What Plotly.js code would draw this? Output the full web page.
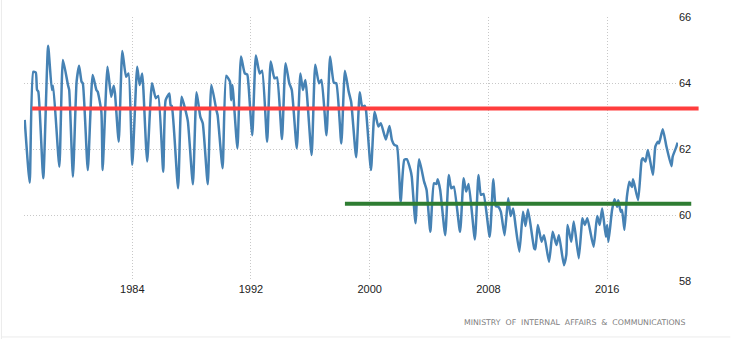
<!DOCTYPE html>
<html>
<head>
<meta charset="utf-8">
<script src="https://cdn.plot.ly/plotly-3.0.1.min.js"></script>
<style>html,body{margin:0;padding:0;background:#fff;}#chart{width:731px;height:340px;}</style>
</head>
<body>
<div id="chart"></div>
<script>
const dates = [
'1976-10','1977-02','1977-05','1977-07','1977-08','1977-09','1978-01','1978-05','1978-08','1978-09',
'1979-02','1979-05','1979-09','1979-10','1980-01','1980-04','1980-06','1980-08','1980-09','1981-01',
'1981-05','1981-08','1981-09','1981-12','1982-01','1982-05','1982-08','1982-10','1982-11','1983-02',
'1983-05','1983-08','1983-10','1984-01','1984-05','1984-07','1984-09','1984-10','1985-01','1985-05',
'1985-08','1985-10','1986-02','1986-04','1986-07','1986-08','1986-09','1987-02','1987-05','1987-08',
'1987-10','1988-02','1988-05','1988-08','1988-10','1989-02','1989-05','1989-09','1989-10','1990-02',
'1990-05','1990-08','1990-09','1990-10','1991-02','1991-05','1991-08','1991-10','1991-11','1992-02',
'1992-05','1992-08','1992-10','1993-02','1993-05','1993-08','1993-10','1994-02','1994-05','1994-08',
'1994-10','1995-02','1995-05','1995-07','1995-09','1996-02','1996-05','1996-08','1996-10','1997-02',
'1997-05','1997-08','1997-10','1998-02','1998-05','1998-08','1998-10','1999-02','1999-05','1999-07',
'1999-09','1999-10','2000-02','2000-05','2000-08','2000-10','2001-02','2001-05','2001-07','2001-09',
'2001-11','2002-02','2002-05','2002-07','2002-10','2002-11','2003-02','2003-05','2003-09','2003-11',
'2004-02','2004-05','2004-07','2004-08','2004-10','2005-02','2005-05','2005-07','2005-09','2006-02',
'2006-05','2006-07','2006-09','2007-02','2007-05','2007-07','2007-09','2008-02','2008-05','2008-07',
'2008-09','2008-11','2009-02','2009-05','2009-07','2009-09','2009-11','2010-02','2010-05','2010-07',
'2010-09','2011-02','2011-03','2011-05','2011-08','2011-10','2012-02','2012-05','2012-08','2012-10',
'2013-02','2013-04','2013-05','2013-08','2013-10','2014-02','2014-04','2014-05','2014-07','2014-09',
'2015-02','2015-05','2015-07','2015-09','2015-12','2016-01','2016-02','2016-05','2016-07','2016-09',
'2016-10','2016-12','2017-01','2017-03','2017-05','2017-07','2017-09','2017-10','2018-02','2018-05',
'2018-06','2018-08','2018-10','2019-02','2019-04','2019-06','2019-07','2019-10','2020-01','2020-05',
'2020-06','2020-09','2020-10'
];
const values = [
62.88,60.98,64.34,64.32,63.79,63.74,61.11,65.13,63.79,63.92,
61.46,64.70,63.94,63.79,61.16,64.04,64.52,64.04,63.99,61.36,
64.24,63.79,63.74,63.13,61.36,64.49,63.58,63.92,63.69,62.22,
64.97,64.19,64.29,61.52,64.49,63.94,64.29,63.79,61.62,63.99,
63.54,63.61,61.31,63.48,63.68,63.33,63.30,60.81,63.58,63.18,
62.83,60.93,63.72,62.98,62.78,60.93,63.94,63.18,63.03,61.42,
64.22,64.04,63.48,63.94,62.02,64.80,64.29,64.26,63.94,62.42,
64.83,64.29,64.37,62.22,64.65,64.14,64.17,62.30,64.60,63.99,
63.79,62.02,64.29,63.79,64.09,61.82,64.55,63.99,64.09,62.42,
64.80,64.01,63.99,62.17,64.37,63.74,63.43,61.75,63.72,63.28,
63.31,63.18,61.36,63.13,62.68,62.78,62.29,62.70,62.27,62.12,
62.09,60.40,61.67,61.69,61.36,61.16,59.75,61.69,61.01,60.76,
59.49,60.96,60.94,61.08,60.76,59.39,61.21,60.81,60.86,59.49,
61.11,60.71,60.94,59.26,61.21,60.61,60.64,59.34,61.08,60.27,
60.25,60.10,59.39,60.51,59.97,60.20,59.65,58.89,60.10,59.67,
60.17,58.99,58.96,59.70,59.19,59.39,58.58,59.49,59.09,59.39,
58.48,58.79,59.70,59.19,59.80,58.69,59.49,59.90,59.70,59.90,
59.04,59.97,59.70,60.20,59.34,59.70,59.19,60.15,60.48,60.25,
60.45,60.10,60.15,59.55,60.55,61.01,60.85,61.08,60.45,61.67,
61.72,61.62,61.97,61.21,62.07,62.22,62.17,62.60,62.07,61.48,
61.77,62.07,62.19
];
// Horizontal reference levels (red, green)
const refLevels = [63.23, 60.34];
const refStart = ['1977-04-01', '1998-05-01'];
const refEnd = ['2022-03-01', '2021-09-01'];
const refColors = ['#ff3d3d', '#2e7d32'];
// Axis ticks
const yTicks = [58, 60, 62, 64, 66];
const xRange = ['1976-09-14', '2020-10-10'];
const source = 'MINISTRY\u00a0 OF\u00a0 INTERNAL\u00a0 AFFAIRS\u00a0 &\u00a0 COMMUNICATIONS';

const r0 = Date.parse(xRange[0]), r1 = Date.parse(xRange[1]);
const toPaper = d => (Date.parse(d) - r0) / (r1 - r0);

const shapes = refLevels.map((lv, i) => ({
  type: 'line', xref: 'paper', yref: 'y',
  x0: toPaper(refStart[i]), x1: toPaper(refEnd[i]), y0: lv, y1: lv,
  line: {color: refColors[i], width: 4}, layer: 'above'
}));
shapes.push({type:'line', xref:'paper', yref:'paper', x0:-0.0345, x1:-0.0345, y0:-0.22, y1:1.07, line:{color:'#ebebeb', width:1}});
shapes.push({type:'line', xref:'paper', yref:'paper', x0:-0.0345, x1:1.08, y0:-0.212, y1:-0.212, line:{color:'#ebebeb', width:1}});

const trace = {
  x: dates, y: values, type: 'scatter', mode: 'lines',
  line: {color: '#4682b4', width: 2.5, shape: 'spline', smoothing: 0.5},
  hoverinfo: 'x+y'
};

const layout = {
  width: 731, height: 340,
  margin: {l: 24, r: 53, t: 17, b: 59},
  paper_bgcolor: '#fff', plot_bgcolor: '#fff',
  showlegend: false,
  font: {family: 'Liberation Sans, Arial, sans-serif', size: 11, color: '#333'},
  xaxis: {
    type: 'date', range: xRange, tick0: '1984-01-01', dtick: 'M96', tickformat: '%Y',
    showgrid: true, gridcolor: '#c8c8c8', griddash: '1px,2px', gridwidth: 1,
    zeroline: false, showline: false, ticks: '', tickfont: {size: 11, color: '#222'}
  },
  yaxis: {
    side: 'right', range: [58, 66], tickvals: yTicks,
    showgrid: true, gridcolor: '#c8c8c8', griddash: '1px,2px', gridwidth: 1,
    zeroline: false, showline: false, ticks: '', tickfont: {size: 11, color: '#222'}
  },
  shapes: shapes,
  annotations: [{
    text: source, xref: 'paper', yref: 'paper', x: 1.0138, y: -0.158,
    xanchor: 'right', yanchor: 'middle', showarrow: false,
    font: {size: 7.8, color: '#808080', family: 'DejaVu Sans, sans-serif'}
  }]
};

Plotly.newPlot('chart', [trace], layout, {displayModeBar: false, staticPlot: true});
</script>
</body>
</html>
